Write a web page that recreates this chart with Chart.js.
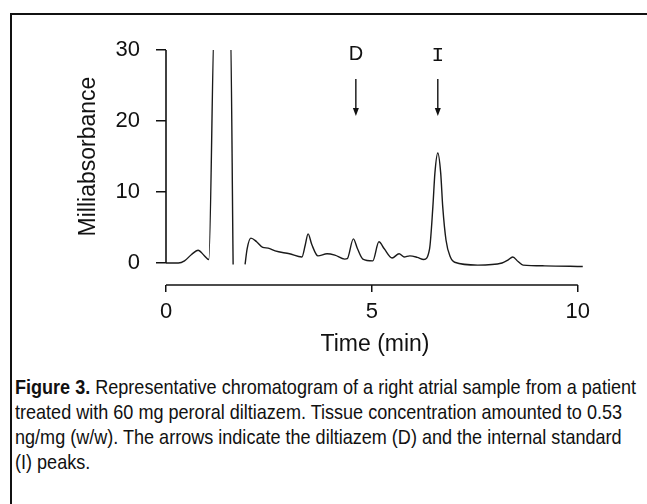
<!DOCTYPE html>
<html lang="en">
<head>
  <title>Chromatogram</title>
  <script src="https://cdn.jsdelivr.net/npm/chart.js@4.4.1/dist/chart.umd.min.js"></script>
  <style>
    html, body { margin: 0; padding: 0; background: #fff; width: 647px; height: 504px; overflow: hidden; }
    #frame { position: absolute; left: 10px; top: 13px; width: 700px; height: 600px;
             border-left: 2px solid #111; border-top: 2px solid #111; }
    #chart { position: absolute; left: 0; top: 0; }
    #caption { position: absolute; left: 15px; top: 374px; white-space: nowrap;
               font-family: "Liberation Sans", Arial, sans-serif;
               font-size: 21px; line-height: 25px; color: #111; }
    #caption .ln { display: block; width: max-content; transform-origin: 0 50%; }
  </style>
</head>
<body>
  <div id="frame"></div>
  <canvas id="chart" width="647" height="360"></canvas>
  <div id="caption">
    <span class="ln"><b>Figure 3.</b> Representative chromatogram of a right atrial sample from a patient</span>
    <span class="ln">treated with 60 mg peroral diltiazem. Tissue concentration amounted to 0.53</span>
    <span class="ln">ng/mg (w/w). The arrows indicate the diltiazem (D) and the internal standard</span>
    <span class="ln">(I) peaks.</span>
  </div>

  <script>
  // retention time (min) and detector signal (milliabsorbance)
  // null = the pen gap after the off-scale solvent front
  var timeMin = [0.00, 0.30, 0.45, 0.62, 0.78, 0.92, 1.04, 1.18, 1.56, 1.63, 1.75,
                 1.92, 1.97, 2.06, 2.20, 2.35, 2.48, 2.65, 3.00, 3.30, 3.38, 3.45, 3.54, 3.69, 3.91,
                 4.10, 4.34, 4.40, 4.55, 4.65, 4.78, 5.02, 5.17, 5.30, 5.49, 5.66, 5.78, 5.92,
                 6.10, 6.26, 6.40, 6.48, 6.53, 6.60, 6.67, 6.72, 6.80, 6.90, 7.01,
                 7.57, 8.16, 8.30, 8.42, 8.55, 8.67, 9.20, 10.12];
  var absorbance = [0.0, 0.0, 0.3, 1.2, 1.8, 1.1, 0.5, 35, 35, -0.2, null,
                 -0.2, 2.0, 3.5, 3.0, 2.2, 2.1, 1.7, 1.3, 0.85, 2.5, 4.1, 2.6, 1.0, 1.3,
                 1.1, 0.55, 0.6, 3.4, 2.0, 0.55, 0.3, 3.0, 2.0, 0.7, 1.3, 0.85, 1.0,
                 0.8, 0.5, 2.0, 7.9, 12.7, 15.5, 12.7, 7.9, 3.2, 0.9, 0.1,
                 -0.3, 0.0, 0.4, 0.85, 0.2, -0.3, -0.4, -0.5];

  var xTicks = [0, 5, 10];
  var yTicks = [0, 10, 20, 30];

  // peak markers: label, retention time
  var markerLabels = ['D', 'I'];
  var markerTimes = [4.61, 6.60];

  var points = timeMin.map(function (t, i) { return { x: t, y: absorbance[i] }; });

  var FONT = '"Liberation Sans", Arial, sans-serif';

  // squeeze caption lines to the narrow typeface width of the original
  (function () {
    var lines = document.querySelectorAll('#caption .ln');
    var k = 621 / lines[0].getBoundingClientRect().width;
    lines.forEach(function (el) { el.style.transform = 'scaleX(' + k + ')'; });
  })();

  var extras = {
    id: 'extras',
    afterDraw: function (chart) {
      var c = chart.ctx, xs = chart.scales.x, ys = chart.scales.y;
      c.save();
      c.strokeStyle = '#111';
      c.fillStyle = '#111';
      c.lineWidth = 1.6;

      // y axis line only spans 0..30
      var x0 = xs.getPixelForValue(0);
      c.beginPath();
      c.moveTo(x0, ys.getPixelForValue(0));
      c.lineTo(x0, ys.getPixelForValue(30));
      c.stroke();

      // x axis line 0..10, at the bottom of the plot
      var yb = chart.chartArea.bottom;
      c.beginPath();
      c.moveTo(xs.getPixelForValue(0), yb);
      c.lineTo(xs.getPixelForValue(10), yb);
      c.stroke();

      // y title centered on the 0..30 span
      var yMid = (ys.getPixelForValue(0) + ys.getPixelForValue(30)) / 2;
      c.save();
      c.translate(89, yMid);
      c.rotate(-Math.PI / 2);
      c.font = '23px ' + FONT;
      c.textAlign = 'center';
      c.textBaseline = 'middle';
      c.fillText('Milliabsorbance', 0, 0);
      c.restore();

      // arrows with labels
      c.lineWidth = 1.4;
      markerLabels.forEach(function (lab, i) {
        var px = xs.getPixelForValue(markerTimes[i]);
        var top = ys.getPixelForValue(25.9);
        var tip = ys.getPixelForValue(20.7);
        c.beginPath();
        c.moveTo(px, top);
        c.lineTo(px, tip - 6);
        c.stroke();
        c.beginPath();
        c.moveTo(px - 3, tip - 8);
        c.lineTo(px + 3, tip - 8);
        c.lineTo(px, tip);
        c.closePath();
        c.fill();
        c.font = lab === 'I' ? '21px "Liberation Mono", monospace' : '20px ' + FONT;
        c.textAlign = 'center';
        c.textBaseline = 'middle';
        c.fillText(lab, px, ys.getPixelForValue(29.3));
      });
      c.restore();
    }
  };

  new Chart(document.getElementById('chart'), {
    type: 'line',
    data: {
      datasets: [{
        data: points,
        borderColor: '#1a1a1a',
        borderWidth: 1.4,
        pointRadius: 0,
        fill: false,
        spanGaps: false,
        cubicInterpolationMode: 'monotone'
      }]
    },
    options: {
      responsive: false,
      animation: false,
      layout: { padding: { top: 50, right: 63, left: 0, bottom: 0 } },
      plugins: { legend: { display: false }, tooltip: { enabled: false } },
      scales: {
        x: {
          type: 'linear',
          min: 0,
          max: 10.15,
          afterFit: function (s) { s.height = 75; },
          afterBuildTicks: function (s) { s.ticks = xTicks.map(function (v) { return { value: v }; }); },
          border: { display: false },
          grid: { drawOnChartArea: false, drawTicks: true, tickLength: 7, color: '#111', lineWidth: 1.5 },
          ticks: { color: '#111', font: { family: FONT, size: 22 }, padding: 7, maxRotation: 0 },
          title: { display: true, text: 'Time (min)', color: '#111',
                   font: { family: FONT, size: 23 }, padding: { top: 0, bottom: 2 } }
        },
        y: {
          min: -3.1,
          max: 30,
          afterFit: function (s) { s.width = 166; },
          afterBuildTicks: function (s) { s.ticks = yTicks.map(function (v) { return { value: v }; }); },
          border: { display: false },
          grid: { drawOnChartArea: false, drawTicks: true, tickLength: 10, color: '#111', lineWidth: 1.5 },
          ticks: { color: '#111', font: { family: FONT, size: 22 }, padding: 16 }
        }
      }
    },
    plugins: [extras]
  });
  </script>
</body>
</html>
